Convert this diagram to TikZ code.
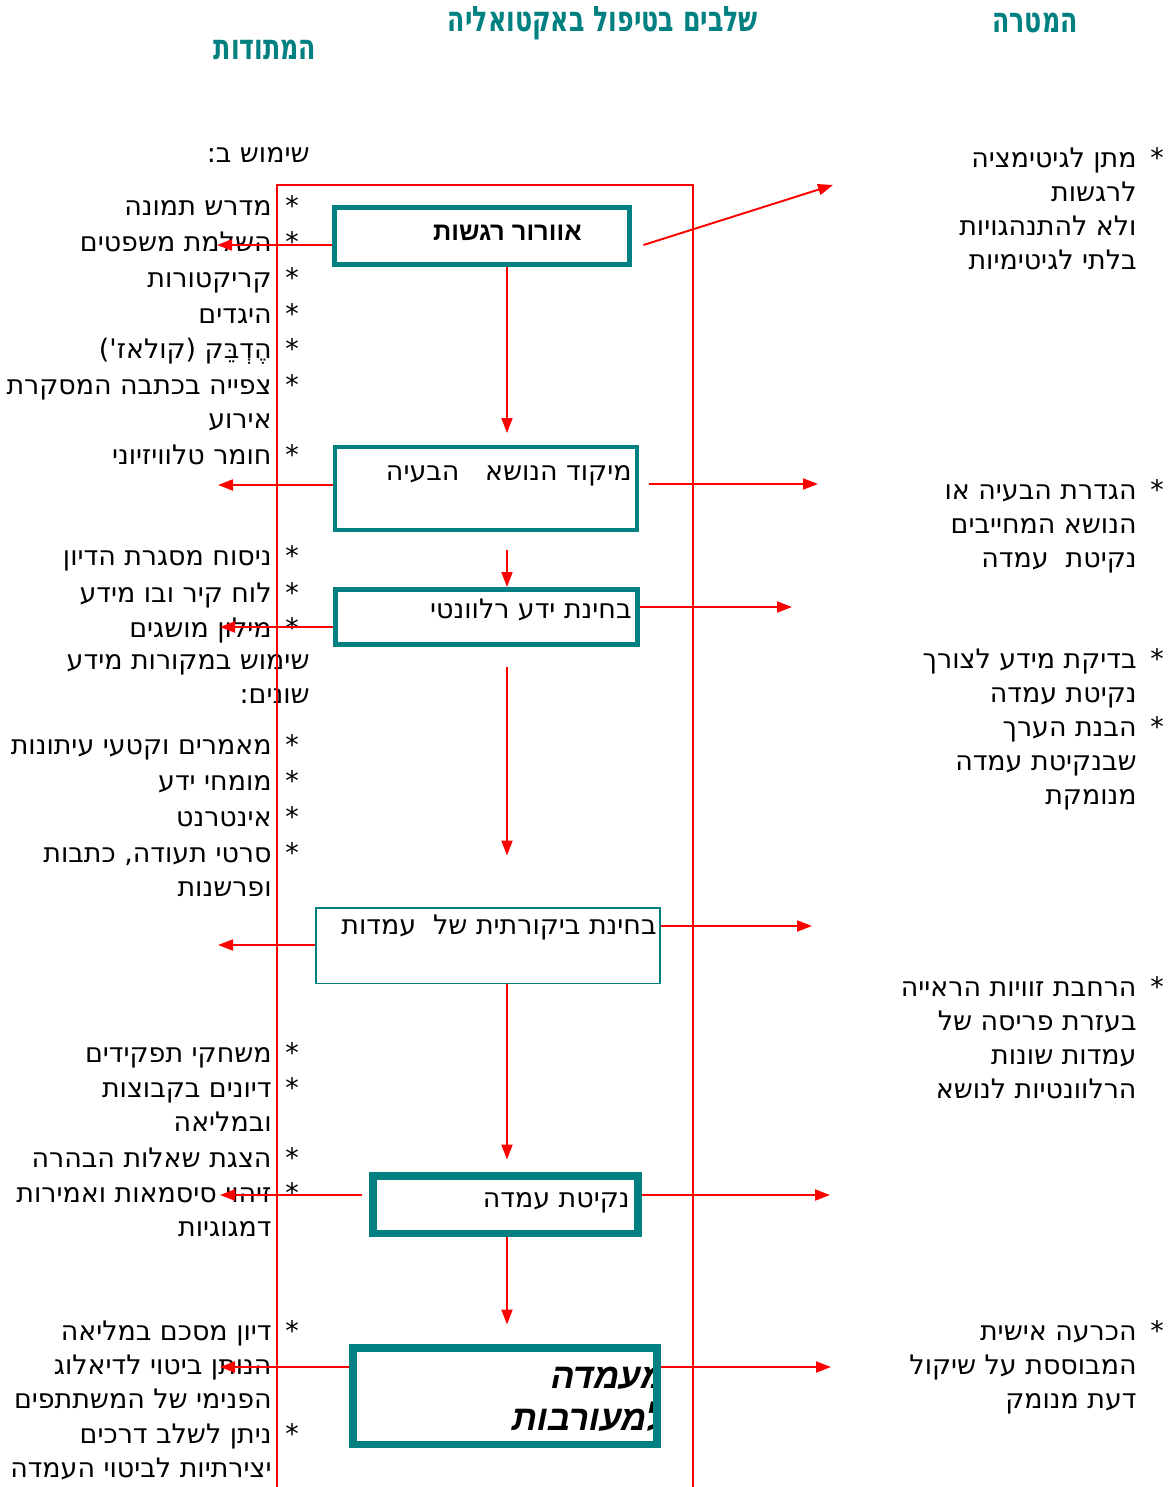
\documentclass[tikz,border=0pt]{standalone}
\usepackage{fontspec}
\setmainfont{DejaVu Sans}
\newfontfamily\hebfont[Script=Hebrew]{DejaVu Sans}
\newfontfamily\hebbold[Script=Hebrew]{Liberation Sans}
\newfontfamily\hebhead[Script=Hebrew,FakeStretch=0.72]{DejaVu Sans}
\newfontfamily\hebslant[Script=Hebrew,FakeSlant=0.2]{Liberation Sans}
\TeXXeTstate=1
\usetikzlibrary{arrows.meta}
\definecolor{stageteal}{RGB}{0,128,128}
\newcommand{\rl}[1]{\beginR#1\endR}
\tikzstyle{title}=[inner sep=0,text=stageteal,font={\hebhead\bfseries\fontsize{20}{24}\selectfont}]
\tikzstyle{stage}=[draw=stageteal,inner sep=0]
\tikzstyle{stagetext}=[anchor=base east,inner sep=0,font={\hebfont\fontsize{15.3}{19.35}\selectfont}]
\tikzstyle{entry}=[anchor=north east,yshift=0.28cm,inner sep=0,align=right,font={\hebfont\fontsize{15.3}{19.35}\selectfont}]
\tikzstyle{bullet}=[anchor=north,yshift=0.28cm,inner sep=0,font={\hebfont\fontsize{15.3}{19.35}\selectfont}]
\tikzstyle{frame}=[draw=red,line width=0.9pt]
\tikzstyle{edge}=[-{Triangle[length=0.3cm,width=0.22cm]},draw=red,line width=1.1pt]

\begin{document}
\begin{tikzpicture}[x=0.02cm,y=-0.02cm]
\useasboundingbox (0,0) rectangle (1168,1487);
% headings
\node [title] (hmid) at (603,23) {\rl{שלבים בטיפול באקטואליה}};
\node [title] (hgoal) at (1035,23) {\rl{המטרה}};
\node [title] (hmeth) at (265,50) {\rl{המתודות}};

% methods column
\node [entry] (use1) at (310,152) {\strut\rl{שימוש ב:}};
\node [entry] (l1) at (272,205) {\strut\rl{מדרש תמונה}};
\node [entry] (l2) at (272,241) {\strut\rl{השלמת משפטים}};
\node [entry] (l3) at (272,277) {\strut\rl{קריקטורות}};
\node [entry] (l4) at (272,313) {\strut\rl{היגדים}};
\node [entry] (l5) at (272,348) {\strut\rl{הֶדְבֵּק (קולאז')}};
\node [entry] (l6) at (272,384) {\strut\rl{צפייה בכתבה המסקרת}\\\rl{אירוע}};
\node [entry] (l7) at (272,454) {\strut\rl{חומר טלוויזיוני}};
\node [entry] (l8) at (272,555) {\strut\rl{ניסוח מסגרת הדיון}};
\node [entry] (l9) at (272,592) {\strut\rl{לוח קיר ובו מידע}};
\node [entry] (l10) at (272,627) {\strut\rl{מילון מושגים}};
\node [entry] (use2) at (310,659) {\strut\rl{שימוש במקורות מידע}\\\rl{שונים:}};
\node [entry] (l11) at (272,744) {\strut\rl{מאמרים וקטעי עיתונות}};
\node [entry] (l12) at (272,780) {\strut\rl{מומחי ידע}};
\node [entry] (l13) at (272,816) {\strut\rl{אינטרנט}};
\node [entry] (l14) at (272,852) {\strut\rl{סרטי תעודה, כתבות}\\\rl{ופרשנות}};
\node [entry] (l15) at (272,1052) {\strut\rl{משחקי תפקידים}};
\node [entry] (l16) at (272,1087) {\strut\rl{דיונים בקבוצות}\\\rl{ובמליאה}};
\node [entry] (l17) at (272,1157) {\strut\rl{הצגת שאלות הבהרה}};
\node [entry] (l18) at (272,1192) {\strut\rl{זיהוי סיסמאות ואמירות}\\\rl{דמגוגיות}};
\node [entry] (l19) at (272,1330) {\strut\rl{דיון מסכם במליאה}\\\rl{הנותן ביטוי לדיאלוג}\\\rl{הפנימי של המשתתפים}};
\node [entry] (l20) at (272,1433) {\strut\rl{ניתן לשלב דרכים}\\\rl{יצירתיות לביטוי העמדה}};
\foreach \y [count=\i] in {205,241,277,313,348,384,454,555,592,627,744,780,816,852,1052,1087,1157,1192,1330,1433}
  \node [bullet] (ls\i) at (292,\y) {\strut*};

% goals column
\node [entry] (r1) at (1137,157) {\strut\rl{מתן לגיטימציה}\\\rl{לרגשות}\\\rl{ולא להתנהגויות}\\\rl{בלתי לגיטימיות}};
\node [entry] (r2) at (1137,489) {\strut\rl{הגדרת הבעיה או}\\\rl{הנושא המחייבים}\\\rl{נקיטת~~עמדה}};
\node [entry] (r3) at (1137,658) {\strut\rl{בדיקת מידע לצורך}\\\rl{נקיטת עמדה}};
\node [entry] (r4) at (1137,726) {\strut\rl{הבנת הערך}\\\rl{שבנקיטת עמדה}\\\rl{מנומקת}};
\node [entry] (r5) at (1137,986) {\strut\rl{הרחבת זוויות הראייה}\\\rl{בעזרת פריסה של}\\\rl{עמדות שונות}\\\rl{הרלוונטיות לנושא}};
\node [entry] (r6) at (1137,1330) {\strut\rl{הכרעה אישית}\\\rl{המבוססת על שיקול}\\\rl{דעת מנומק}};
\foreach \y [count=\i] in {157,489,658,726,986,1330}
  \node [bullet] (rs\i) at (1157,\y) {\strut*};

% stages
\node [stage,line width=0.1cm,minimum width=5.9cm,minimum height=1.14cm] (b1) at (482,236) {};
\node [stage,line width=0.07cm,minimum width=6.05cm,minimum height=1.67cm] (b2) at (486,488.5) {};
\node [stage,line width=0.1cm,minimum width=6.04cm,minimum height=1.1cm] (b3) at (486.5,617) {};
\node [stage,line width=0.03cm,minimum width=6.89cm,minimum height=1.51cm] (b4) at (488,945.5) {};
\node [stage,line width=0.15cm,minimum width=5.31cm,minimum height=1.15cm] (b5) at (505.5,1204.5) {};
\node [stagetext,font={\hebbold\bfseries\fontsize{14.5}{17}\selectfont}] (t1) at (582,240) {\rl{אוורור רגשות}};
\node [stagetext] (t2) at (632,480) {\rl{מיקוד הנושא~~~הבעיה}};
\node [stagetext] (t3) at (632,618) {\rl{בחינת ידע רלוונטי}};
\node [stagetext] (t4) at (657,934) {\rl{בחינת ביקורתית של~~עמדות}};
\node [stagetext] (t5) at (630,1207) {\rl{נקיטת עמדה}};
\begin{scope}
  \clip (352.7,1347.7) rectangle (657.3,1444.3);
  \node [entry,yshift=0.06cm,font={\hebslant\bfseries\fontsize{20}{22.8}\selectfont}] (t6) at (665,1377) {\strut\rl{מעמדה}\\\rl{למעורבות}};
\end{scope}
\node [stage,line width=0.15cm,minimum width=6.09cm,minimum height=1.93cm] (b6) at (505,1396) {};

% frame
\draw [frame] (277,1487) -- (277,185) -- (693,185) -- (693,1487);

% flow
\coordinate (axis) at (507,0);
\path [edge,shorten >=0.24cm] (b1.south -| axis) -- (b2.north -| axis);
\path [edge,shorten <=0.37cm] (b2.south -| axis) -- (b3.north -| axis);
\path [edge,shorten <=0.41cm,shorten >=1.03cm] (b3.south -| axis) -- (b4.north -| axis);
\path [edge,shorten >=0.25cm] (b4.south -| axis) -- (b5.north -| axis);
\path [edge,shorten >=0.39cm] (b5.south -| axis) -- (b6.north -| axis);

% to methods
\coordinate (m1) at (217,245);
\coordinate (m2) at (218,485);
\coordinate (m3) at (220,627);
\coordinate (m4) at (218,945);
\coordinate (m5) at (220,1195);
\coordinate (m6) at (220,1367);
\path [edge] (b1.west |- m1) -- (m1);
\path [edge] (b2.west |- m2) -- (m2);
\path [edge] (b3.west |- m3) -- (m3);
\path [edge] (b4.west |- m4) -- (m4);
\path [edge,shorten <=0.15cm] (b5.west |- m5) -- (m5);
\path [edge] (b6.west |- m6) -- (m6);

% to goals
\coordinate (g1) at (833,185);
\coordinate (g2) at (818,484);
\coordinate (g3) at (792,607);
\coordinate (g4) at (812,926);
\coordinate (g5) at (830,1195);
\coordinate (g6) at (831,1367);
\path [edge] ([xshift=0.23cm,yshift=-0.18cm]b1.east) -- (g1);
\path [edge,shorten <=0.2cm] (b2.east |- g2) -- (g2);
\path [edge] (b3.east |- g3) -- (g3);
\path [edge] (b4.east |- g4) -- (g4);
\path [edge] (b5.east |- g5) -- (g5);
\path [edge] (b6.east |- g6) -- (g6);
\end{tikzpicture}
\end{document}
